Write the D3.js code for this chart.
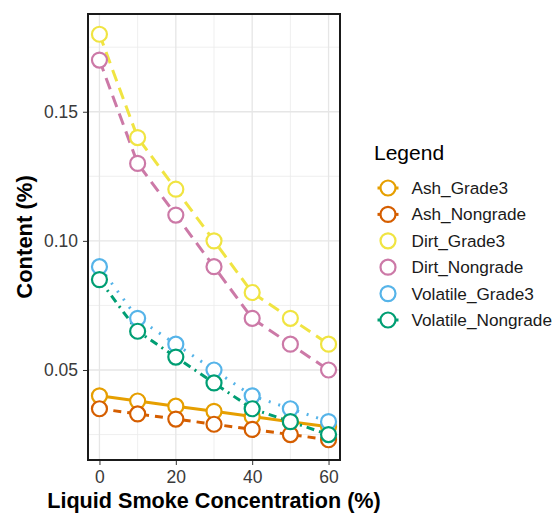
<!DOCTYPE html>
<html><head><meta charset="utf-8">
<script src="https://cdn.jsdelivr.net/npm/d3@7"></script>
<style>body{margin:0;background:#fff;} svg{display:block;font-family:"Liberation Sans",Arial,Helvetica,sans-serif;}</style>
</head><body><svg id="c" width="556" height="513"></svg>
<script>
const concentration = [0, 10, 20, 30, 40, 50, 60];
const seriesNames = ["Ash_Grade3","Ash_Nongrade","Dirt_Grade3","Dirt_Nongrade","Volatile_Grade3","Volatile_Nongrade"];
const ashGrade3 = [0.040, 0.038, 0.036, 0.034, 0.032, 0.030, 0.028];
const ashNongrade = [0.035, 0.033, 0.031, 0.029, 0.027, 0.025, 0.023];
const dirtGrade3 = [0.18, 0.14, 0.12, 0.10, 0.08, 0.07, 0.06];
const dirtNongrade = [0.17, 0.13, 0.11, 0.09, 0.07, 0.06, 0.05];
const volatileGrade3 = [0.09, 0.07, 0.06, 0.05, 0.04, 0.035, 0.03];
const volatileNongrade = [0.085, 0.065, 0.055, 0.045, 0.035, 0.03, 0.025];
const xTicks = [0, 20, 40, 60];
const yTicks = [0.05, 0.10, 0.15];
const colors = ["#E69F00","#D55E00","#F0E442","#CC79A7","#56B4E9","#009E73"];
const dashes = [null, "8,6", "12,7", "12,7", "2,8", "8,5,2,5"];
const legendStubs = [true, true, false, false, false, true];

const values = [ashGrade3, ashNongrade, dirtGrade3, dirtNongrade, volatileGrade3, volatileNongrade];
const series = seriesNames.map((n,i)=>({name:n,color:colors[i],dash:dashes[i],stub:legendStubs[i],pts:concentration.map((c,j)=>({x:c,y:values[i][j]}))}));

const svg = d3.select("#c");
const P = {l:88, r:340, t:14, b:460};
const allY = values.flat();
const yMin = d3.min(allY), yMax = d3.max(allY), yr = yMax - yMin;
const x = d3.scaleLinear().domain([-3, 63]).range([P.l, P.r]);
const y = d3.scaleLinear().domain([yMin - 0.05*yr, yMax + 0.05*yr]).range([P.b, P.t]);

// grid
const g = svg.append("g");
[10,30,50].forEach(v=>g.append("line").attr("x1",x(v)).attr("x2",x(v)).attr("y1",P.t).attr("y2",P.b).attr("stroke","#ebebeb").attr("stroke-width",0.8));
[0.025,0.075,0.125,0.175].forEach(v=>g.append("line").attr("x1",P.l).attr("x2",P.r).attr("y1",y(v)).attr("y2",y(v)).attr("stroke","#ebebeb").attr("stroke-width",0.8));
xTicks.forEach(v=>g.append("line").attr("x1",x(v)).attr("x2",x(v)).attr("y1",P.t).attr("y2",P.b).attr("stroke","#e6e6e6").attr("stroke-width",1.3));
yTicks.forEach(v=>g.append("line").attr("x1",P.l).attr("x2",P.r).attr("y1",y(v)).attr("y2",y(v)).attr("stroke","#e6e6e6").attr("stroke-width",1.3));

// lines
const line = d3.line().x(d=>x(d.x)).y(d=>y(d.y));
series.forEach(s=>{
  svg.append("path").datum(s.pts).attr("d",line).attr("fill","none").attr("stroke",s.color)
    .attr("stroke-width",3).attr("stroke-dasharray",s.dash);
});
series.forEach(s=>{
  svg.append("g").selectAll("circle").data(s.pts).join("circle")
    .attr("cx",d=>x(d.x)).attr("cy",d=>y(d.y)).attr("r",7.5)
    .attr("fill","#fff").attr("stroke",s.color).attr("stroke-width",2.2);
});

// border
svg.append("rect").attr("x",P.l).attr("y",P.t).attr("width",P.r-P.l).attr("height",P.b-P.t)
  .attr("fill","none").attr("stroke","#1a1a1a").attr("stroke-width",2);

// axes
const xa = svg.append("g").attr("transform",`translate(0,${P.b+1})`)
  .call(d3.axisBottom(x).tickValues(xTicks).tickSize(4).tickPadding(6).tickFormat(d3.format("d")));
const ya = svg.append("g").attr("transform",`translate(${P.l-1},0)`)
  .call(d3.axisLeft(y).tickValues(yTicks).tickSize(4).tickPadding(5).tickFormat(d3.format(".2f")));
[xa,ya].forEach(a=>{a.select(".domain").remove();a.selectAll(".tick line").attr("stroke","#333");
  a.selectAll("text").attr("fill","#3a3a3a").style("font-size","17.5px").style("font-family","Liberation Sans, Arial, sans-serif");});

svg.append("text").attr("x",(P.l+P.r)/2).attr("y",508).attr("text-anchor","middle")
  .style("font-size","21.6px").style("font-weight","bold").attr("fill","#000").text("Liquid Smoke Concentration (%)");
svg.append("text").attr("transform",`translate(32,${(P.t+P.b)/2}) rotate(-90)`).attr("text-anchor","middle")
  .style("font-size","22px").style("font-weight","bold").attr("fill","#000").text("Content (%)");

// legend
const lg = svg.append("g");
lg.append("text").attr("x",374).attr("y",159.5).style("font-size","21px").attr("fill","#000").text("Legend");
series.forEach((s,i)=>{
  const cy = 188 + i*26.4, cx = 388;
  if (s.stub) lg.append("line").attr("x1",cx-10.5).attr("x2",cx+10.5).attr("y1",cy).attr("y2",cy).attr("stroke",s.color).attr("stroke-width",3);
  lg.append("circle").attr("cx",cx).attr("cy",cy).attr("r",7.5).attr("fill","#fff").attr("stroke",s.color).attr("stroke-width",2.2);
  lg.append("text").attr("x",411.5).attr("y",cy+6).style("font-size","17.2px").attr("fill","#1a1a1a").text(s.name);
});
</script></body></html>
